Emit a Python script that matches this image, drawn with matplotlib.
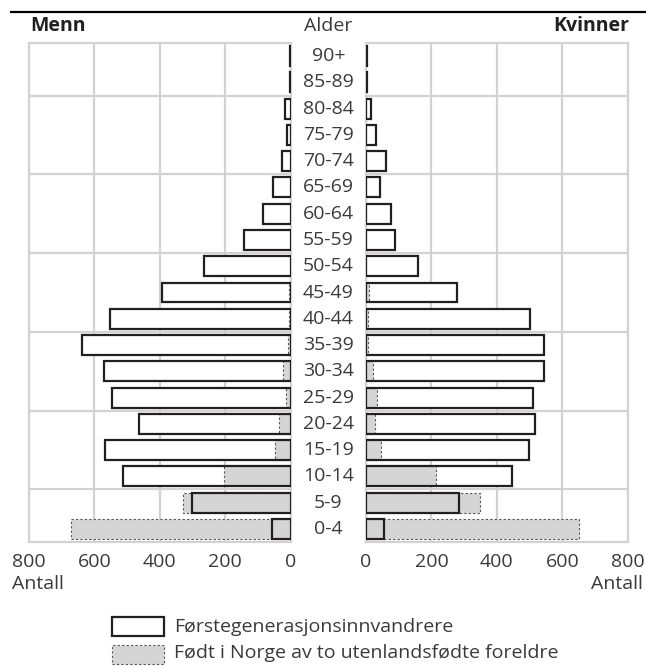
import numpy as np
import matplotlib
matplotlib.use('Agg')
import matplotlib.pyplot as plt
from matplotlib.patches import Rectangle
from matplotlib.lines import Line2D
from matplotlib.transforms import blended_transform_factory

plt.rcParams['font.family'] = ['Open Sans', 'DejaVu Sans']

# age groups, bottom to top
ages = ['0-4', '5-9', '10-14', '15-19', '20-24', '25-29', '30-34', '35-39', '40-44',
        '45-49', '50-54', '55-59', '60-64', '65-69', '70-74', '75-79', '80-84', '85-89', '90+']

# Førstegenerasjonsinnvandrere
menn_forste = [56, 301, 514, 569, 464, 545, 571, 639, 551, 394, 266, 142, 85, 53, 27, 12, 16, 2, 2]
kvinner_forste = [55, 283, 446, 497, 518, 510, 545, 543, 502, 279, 160, 88, 76, 43, 62, 31, 14, 2, 2]

# Født i Norge av to utenlandsfødte foreldre
menn_norge = [672, 329, 204, 47, 35, 15, 23, 8, 6, 6, 0, 0, 0, 0, 0, 0, 0, 0, 0]
kvinner_norge = [650, 349, 215, 47, 28, 33, 20, 5, 5, 10, 0, 0, 0, 0, 0, 0, 0, 0, 0]

xticks = [0, 200, 400, 600, 800]

text_col = '#3a3a3a'
dark = '#231f20'
grid_col = '#d2d2d2'
grey_fill = '#d5d5d5'
fs = 14

W, H = 646, 666
fig = plt.figure(figsize=(W / 100, H / 100), dpi=100)

bottom = 1 - 542 / H
height = (542 - 43) / H
axL = fig.add_axes([29 / W, bottom, 261.7 / W, height])
axR = fig.add_axes([366 / W, bottom, 261.7 / W, height])

y = np.arange(len(ages))
bh = 0.76

for ax, forste, norge in [(axL, menn_forste, menn_norge), (axR, kvinner_forste, kvinner_norge)]:
    # white fill hides the grid, grey drawn over it, outline on top
    ax.barh(y, forste, height=bh, color='white', edgecolor='none', zorder=2)
    ax.barh(y, norge, height=bh, color=grey_fill, edgecolor='#555555',
            linestyle=(0, (2, 2)), linewidth=0.8, zorder=3)
    ax.barh(y, forste, height=bh, fill=False, edgecolor=dark, linewidth=1.6, zorder=4)

    ax.set_ylim(-0.5, len(ages) - 0.5)
    ax.set_yticks([1.5, 4.5, 7.5, 10.5, 13.5, 16.5])
    ax.set_yticklabels([])
    ax.set_xticks(xticks)
    ax.set_xticklabels([str(v) for v in xticks])
    ax.tick_params(length=0, labelsize=fs, labelcolor=text_col, pad=8)
    ax.grid(True, color=grid_col, linewidth=1.6, zorder=1)
    ax.set_axisbelow(True)
    for s in ax.spines.values():
        s.set_color(grid_col)
        s.set_linewidth(1.6)
        s.set_zorder(1)

axL.set_xlim(800, 0)
axR.set_xlim(0, 800)

# age labels in the middle
tr = blended_transform_factory(fig.transFigure, axL.transData)
for yi, a in zip(y, ages):
    fig.text(328.3 / W, yi, a, transform=tr, ha='center', va='center',
             fontsize=fs, color=text_col)

# headings and top rule
fig.add_artist(Line2D([11 / W, 1], [1 - 12 / H, 1 - 12 / H], color='black', linewidth=1.6))
fig.text(30 / W, 1 - 26 / H, 'Menn', ha='left', va='center', fontsize=fs,
         fontweight='bold', color=dark)
fig.text(629 / W, 1 - 26 / H, 'Kvinner', ha='right', va='center', fontsize=fs,
         fontweight='bold', color=dark)
fig.text(328.3 / W, 1 - 26 / H, 'Alder', ha='center', va='center', fontsize=fs,
         color=text_col)

fig.text(12 / W, 1 - 584 / H, 'Antall', ha='left', va='center', fontsize=fs, color=text_col)
fig.text(643 / W, 1 - 584 / H, 'Antall', ha='right', va='center', fontsize=fs, color=text_col)

# legend
fig.add_artist(Rectangle((112 / W, 1 - 636 / H), 52 / W, 19 / H, transform=fig.transFigure,
                         facecolor='white', edgecolor=dark, linewidth=1.6))
fig.add_artist(Rectangle((112 / W, 1 - 664 / H), 52 / W, 19 / H, transform=fig.transFigure,
                         facecolor=grey_fill, edgecolor='#555555', linestyle=(0, (2, 2)),
                         linewidth=0.8))
fig.text(174 / W, 1 - 627 / H, 'Førstegenerasjonsinnvandrere', ha='left', va='center',
         fontsize=fs, color=text_col)
fig.text(174 / W, 1 - 653 / H, 'Født i Norge av to utenlandsfødte foreldre', ha='left',
         va='center', fontsize=fs, color=text_col)

fig.savefig('out.png', dpi=100)
